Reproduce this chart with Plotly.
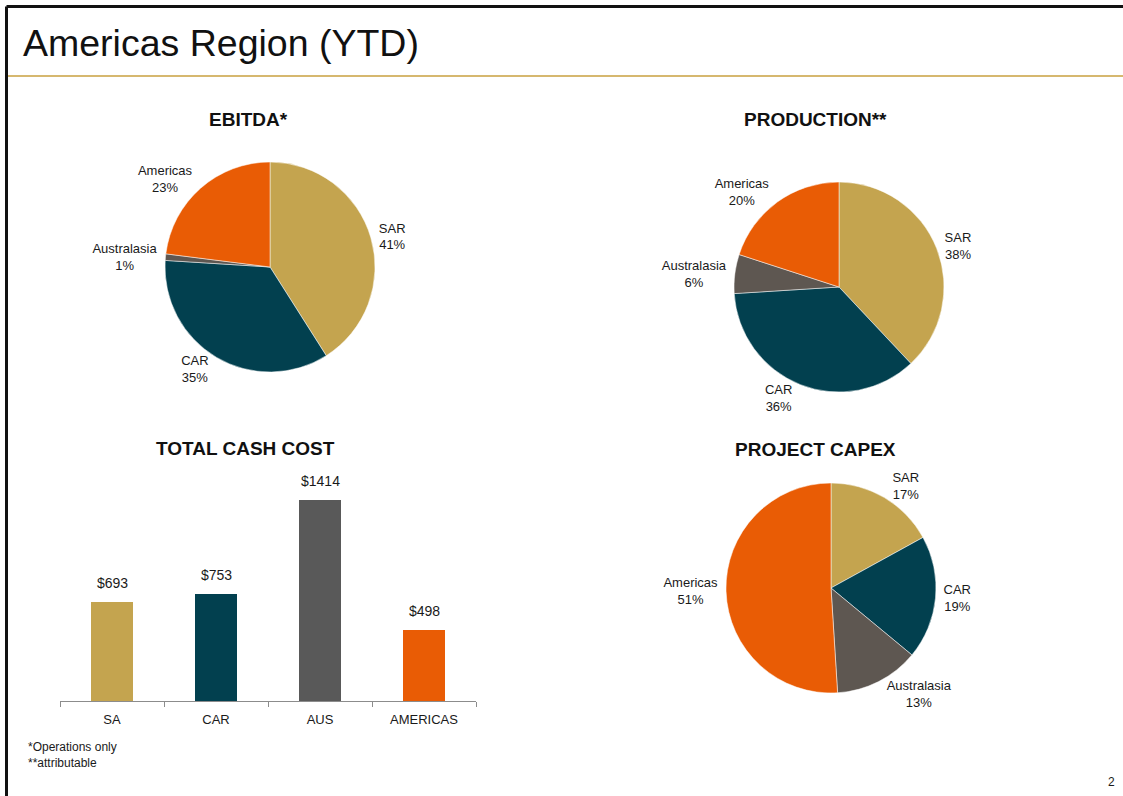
import plotly.graph_objects as go

W, H = 1123, 796

# data
pie_labels = ["SAR", "CAR", "Australasia", "Americas"]
ebitda_pct = [41, 35, 1, 23]
production_pct = [38, 36, 6, 20]
capex_pct = [17, 19, 13, 51]

cost_regions = ["SA", "CAR", "AUS", "AMERICAS"]
cost_values = [693, 753, 1414, 498]

GOLD = "#C4A44F"
TEAL = "#02404F"
GREY_BAR = "#595959"
GREY_PIE = "#5E5751"
ORANGE = "#E95C05"
pie_colors = [GOLD, TEAL, GREY_PIE, ORANGE]
bar_colors = [GOLD, TEAL, GREY_BAR, ORANGE]

FONT = "Liberation Sans, Arial, sans-serif"


def px_x(x):
    return x / W


def px_y(y):
    return 1 - y / H


def pie_domain(cx, cy, r):
    return dict(x=[px_x(cx - r), px_x(cx + r)], y=[px_y(cy + r), px_y(cy - r)])


fig = go.Figure()

# pies: (values, centre x, centre y, radius)
pies = [
    (ebitda_pct, 270, 267, 105),
    (production_pct, 839, 287, 105),
    (capex_pct, 831, 588, 105),
]
for vals, cx, cy, r in pies:
    fig.add_trace(go.Pie(
        labels=pie_labels,
        values=vals,
        sort=False,
        direction="clockwise",
        rotation=0,
        marker=dict(colors=pie_colors, line=dict(color="white", width=0.5)),
        texttemplate="%{label}<br>%{value}%",
        textposition="outside",
        textfont=dict(family=FONT, size=13, color="#1a1a1a"),
        domain=pie_domain(cx, cy, r),
        showlegend=False,
        hoverinfo="label+percent",
    ))

# total cash cost bars
fig.add_trace(go.Bar(
    x=cost_regions,
    y=cost_values,
    marker=dict(color=bar_colors, line=dict(width=0)),
    width=0.41,
    showlegend=False,
))

annotations = []
for reg, v in zip(cost_regions, cost_values):
    annotations.append(dict(
        x=reg, y=v, xref="x", yref="y", text=f"${v}", showarrow=False,
        yanchor="bottom", yshift=9,
        font=dict(family=FONT, size=14, color="#1a1a1a"),
    ))

fig.update_xaxes(
    domain=[px_x(60), px_x(476)],
    showline=True, linecolor="#8c8c8c", linewidth=1,
    ticks="outside", tickson="boundaries", ticklen=5, tickcolor="#8c8c8c",
    ticklabelstandoff=6,
    tickfont=dict(family=FONT, size=13, color="#1a1a1a"),
    showgrid=False, fixedrange=True,
)
fig.update_yaxes(
    domain=[px_y(701), px_y(470)],
    range=[0, 1625],
    visible=False, showgrid=False, fixedrange=True,
)

# panel titles
titles = [
    ("EBITDA*", 248, 119),
    ("PRODUCTION**", 815, 119),
    ("TOTAL CASH COST", 245, 448),
    ("PROJECT CAPEX", 815, 450),
]
for t, x, y in titles:
    annotations.append(dict(
        x=px_x(x), y=px_y(y), xref="paper", yref="paper", text=f"<b>{t}</b>",
        showarrow=False, xanchor="center", yanchor="middle",
        font=dict(family=FONT, size=19, color="#111111"),
    ))

# slide title and footnotes
annotations += [
    dict(x=px_x(21), y=px_y(43), xref="paper", yref="paper",
         text="Americas Region (YTD)", showarrow=False,
         xanchor="left", yanchor="middle",
         font=dict(family=FONT, size=37.5, color="#111111")),
    dict(x=px_x(26), y=px_y(747), xref="paper", yref="paper",
         text="*Operations only", showarrow=False,
         xanchor="left", yanchor="middle",
         font=dict(family=FONT, size=12, color="#1a1a1a")),
    dict(x=px_x(26), y=px_y(763), xref="paper", yref="paper",
         text="**attributable", showarrow=False,
         xanchor="left", yanchor="middle",
         font=dict(family=FONT, size=12, color="#1a1a1a")),
    dict(x=px_x(1117), y=px_y(782), xref="paper", yref="paper",
         text="2", showarrow=False,
         xanchor="right", yanchor="middle",
         font=dict(family=FONT, size=12, color="#1a1a1a")),
]

shapes = [
    # slide frame (left and top edges)
    dict(type="line", xref="paper", yref="paper",
         x0=px_x(6.5), x1=1.01, y0=px_y(6.5), y1=px_y(6.5),
         line=dict(color="#111111", width=3)),
    dict(type="line", xref="paper", yref="paper",
         x0=px_x(6.5), x1=px_x(6.5), y0=px_y(6.5), y1=-0.01,
         line=dict(color="#111111", width=3)),
    # gold rule under the title
    dict(type="line", xref="paper", yref="paper",
         x0=px_x(8), x1=1.01, y0=px_y(76), y1=px_y(76),
         line=dict(color="#C9A13F", width=1.5)),
]

fig.update_layout(
    width=W, height=H,
    margin=dict(l=0, r=0, t=0, b=0),
    paper_bgcolor="white",
    plot_bgcolor="white",
    font=dict(family=FONT),
    bargap=0,
    annotations=annotations,
    shapes=shapes,
)

# drop the page's default body margin so the figure fills the window
fig.write_html(
    "out.html",
    config=dict(displayModeBar=False),
    post_script="document.body.style.margin='0';document.body.style.overflow='hidden';",
)
